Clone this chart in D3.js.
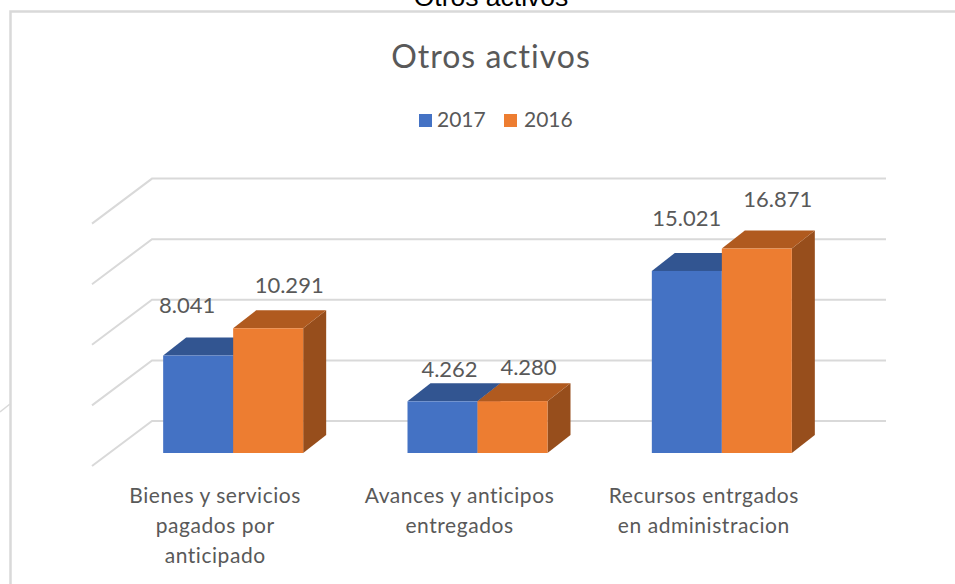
<!DOCTYPE html>
<html>
<head>
<meta charset="utf-8">
<script src="https://cdn.jsdelivr.net/npm/d3@7"></script>
<style>
  html, body { margin: 0; padding: 0; background: #fff; overflow: hidden; }
  svg { display: block; }
  text { font-family: Lato, "Open Sans", sans-serif; fill: #595959; }
</style>
</head>
<body>
<script>
let categories = ['Bienes y servicios\npagados por\nanticipado', 'Avances y anticipos\nentregados', 'Recursos entrgados\nen administracion'];
let seriesNames = ['2017', '2016'];
let values2017 = [8041, 4262, 15021];
let values2016 = [10291, 4280, 16871];
let gridTicks = [0, 5000, 10000, 15000, 20000];

// label nudges, the original chart had its labels dragged around by hand
let nudge2017 = [[-11, -43], [7, -24], [0, -45]];
let nudge2016 = [[21, -35], [16, -26], [21, -42]];

let svgWidth = 955, svgHeight = 584;
let depthX = 23, depthY = 18;
let wallLift = 32;

let colors = {
  '2017': { front: '#4472c4', top: '#325591', side: '#325591' },
  '2016': { front: '#ed7d31', top: '#b05a1f', side: '#974e1c' }
};

let svg = d3.select('body').append('svg')
  .attr('width', svgWidth).attr('height', svgHeight);

let label = d3.formatLocale({ decimal: ',', thousands: '.', grouping: [3], currency: ['', ''] }).format(',');

let xScale = d3.scaleBand().domain(categories).range([111, 844]).paddingInner(0.427).paddingOuter(0.2135);
let xSeries = d3.scaleBand().domain(seriesNames).range([0, xScale.bandwidth()]);
let yScale = d3.scaleLinear().domain([0, 20000]).range([453, 210.6]);

// text that overflows above the chart frame
svg.append('text')
  .attr('x', 491).attr('y', 6)
  .attr('text-anchor', 'middle')
  .style('font-family', '"Liberation Sans", Arial, sans-serif')
  .style('font-size', '26.5px')
  .style('fill', '#000')
  .text('Otros activos');

// chart frame
svg.append('path')
  .attr('d', 'M10.5,584V11.5H955')
  .attr('fill', 'none').attr('stroke', '#d9d9d9').attr('stroke-width', 2.5);
svg.append('line')
  .attr('x1', 0).attr('y1', 412).attr('x2', 10).attr('y2', 404)
  .attr('stroke', '#d9d9d9').attr('stroke-width', 1.5);

svg.append('text')
  .attr('x', 491).attr('y', 68)
  .attr('text-anchor', 'middle')
  .style('font-size', '32px')
  .style('letter-spacing', '1px')
  .text('Otros activos');

// legend
let legend = svg.selectAll('.legend')
  .data(seriesNames)
  .enter().append('g')
  .attr('class', 'legend')
  .attr('transform', (d, i) => 'translate(' + (419 + i * 85) + ',114)');
legend.append('rect')
  .attr('width', 13).attr('height', 13)
  .attr('fill', d => colors[d].front);
legend.append('text')
  .attr('x', (d, i) => 18 + i * 2).attr('y', 13)
  .style('font-size', '21px')
  .text(d => d);

// back wall and floor lines
let grid = svg.append('g')
  .attr('fill', 'none').attr('stroke', '#d9d9d9').attr('stroke-width', 2);
grid.selectAll('path')
  .data(gridTicks)
  .enter().append('path')
  .attr('d', d => {
    let y = yScale(d) - wallLift;
    return 'M92,' + (y + 45) + 'L152,' + y + 'H886';
  });

function drawSeries(name, data, nudges) {
  let rows = categories.map((c, i) => ({ c: c, v: data[i], nudge: nudges[i] }));
  let left = d => xScale(d.c) + xSeries(name);
  let bw = xSeries.bandwidth();
  let g = svg.append('g');

  g.selectAll('.side').data(rows).enter().append('path')
    .attr('fill', colors[name].side)
    .attr('d', d => {
      let x = left(d) + bw, y0 = yScale(0), y1 = yScale(d.v);
      return 'M' + x + ',' + y0 + 'L' + (x + depthX) + ',' + (y0 - depthY) +
        'V' + (y1 - depthY) + 'L' + x + ',' + y1 + 'Z';
    });
  g.selectAll('.top').data(rows).enter().append('path')
    .attr('fill', colors[name].top)
    .attr('d', d => {
      let x = left(d), y = yScale(d.v);
      return 'M' + x + ',' + y + 'L' + (x + depthX) + ',' + (y - depthY) +
        'H' + (x + bw + depthX) + 'L' + (x + bw) + ',' + y + 'Z';
    });
  g.selectAll('.front').data(rows).enter().append('rect')
    .attr('fill', colors[name].front)
    .attr('x', left)
    .attr('y', d => yScale(d.v))
    .attr('width', bw)
    .attr('height', d => yScale(0) - yScale(d.v));
  return rows.map(d => ({
    text: label(d.v),
    x: left(d) + bw / 2 + d.nudge[0],
    y: yScale(d.v) + d.nudge[1]
  }));
}

let labels2017 = drawSeries('2017', values2017, nudge2017);
let labels2016 = drawSeries('2016', values2016, nudge2016);

svg.selectAll('.value')
  .data(labels2017.concat(labels2016))
  .enter().append('text')
  .attr('class', 'value')
  .attr('x', d => d.x).attr('y', d => d.y)
  .attr('text-anchor', 'middle')
  .style('font-size', '22px')
  .text(d => d.text);

// category labels, wrapped the way the picture wraps them
let cat = svg.selectAll('.cat')
  .data(categories)
  .enter().append('text')
  .attr('class', 'cat')
  .attr('text-anchor', 'middle')
  .style('font-size', '21px')
  .style('letter-spacing', '0.55px');
cat.selectAll('tspan')
  .data(c => c.split('\n').map((t, i) => ({ t: t, i: i, c: c })))
  .enter().append('tspan')
  .attr('x', d => xScale(d.c) + xScale.bandwidth() / 2 - 18)
  .attr('y', d => 503 + d.i * 30)
  .text(d => d.t);
</script>
</body>
</html>
